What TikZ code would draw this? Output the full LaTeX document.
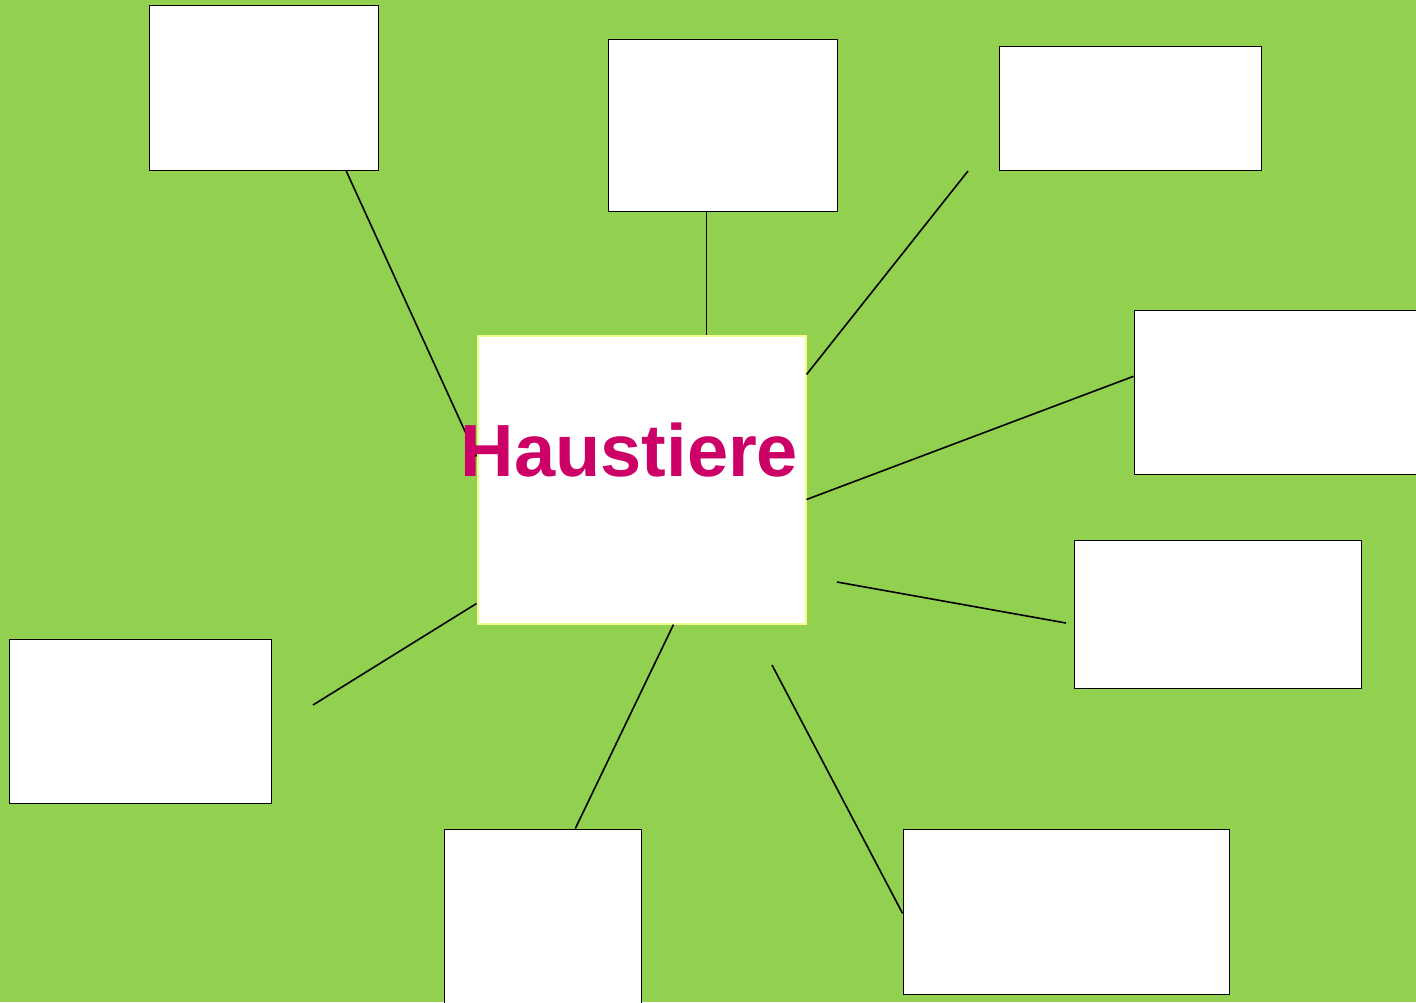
\documentclass[tikz,border=0pt]{standalone}
\usepackage{fontspec}
\usepackage{tikz}
\usetikzlibrary{
  positioning,
  backgrounds
}
\newfontfamily\mapfont{Liberation Sans}
\definecolor{leafgreen}{HTML}{92D050}
\definecolor{hubpink}{HTML}{CC0066}
\definecolor{hubrim}{HTML}{F0FF88}

\begin{document}
\begin{tikzpicture}[
      x=0.5pt, y=-0.5pt,
      leaf/.style={
         rectangle,
         anchor=north west,
         inner sep=0pt,
         line width=0.8pt,
         draw=black,
         fill=white
      },
      hub/.style={
         rectangle,
         anchor=north west,
         inner sep=0pt,
         line width=1pt,
         draw=hubrim,
         fill=white
      },
      title/.style={
         anchor=base,
         inner sep=0pt,
         text=hubpink,
         font=\mapfont\bfseries\fontsize{37}{40}\selectfont
      },
      link/.style={line width=0.8pt,draw=black},
      point/.style={coordinate}
    ]
    \useasboundingbox (0,0) rectangle (1416,1002);
    \clip (0,0) rectangle (1416,1002);
    \fill[leafgreen] (0,0) rectangle (1416,1002);

    % centre and the eight boxes
    \node (hub) [hub, minimum width=164pt, minimum height=144pt] at (476.5,334.5) {};
    \node (n1) [leaf, minimum width=114.5pt, minimum height=82.5pt] at (148.5,4.5) {};
    \node (n2) [leaf, minimum width=114.5pt, minimum height=86pt] at (607.5,38.5) {};
    \node (n3) [leaf, minimum width=131pt, minimum height=62pt] at (998.5,45.5) {};
    \node (n4) [leaf, minimum width=148pt, minimum height=82pt] at (1133.5,309.5) {};
    \node (n5) [leaf, minimum width=143.5pt, minimum height=74pt] at (1073.5,539.5) {};
    \node (n6) [leaf, minimum width=163pt, minimum height=82.5pt] at (902.5,828.5) {};
    \node (n7) [leaf, minimum width=98.5pt, minimum height=93pt] at (443.5,828.5) {};
    \node (n8) [leaf, minimum width=131pt, minimum height=82pt] at (8.5,638.5) {};

    % loose ends
    \coordinate (p2) at ([xshift=-8.25pt]n2.south);
    \coordinate (p3) at (968,171);
    \coordinate (p5a) at (837,582);
    \coordinate (p5b) at (1066,623);
    \coordinate (p6) at (772,665);
    \coordinate (p8) at (313,705);

    \draw [link] ([xshift=41.25pt]n1.south) -- ([yshift=11.5pt]hub.west);
    \draw [link] (p2) -- (p2 |- hub.north);
    \draw [link] (p3) -- ([yshift=52.5pt]hub.east);
    \draw [link] ([yshift=8pt]n4.west) -- ([yshift=-10pt]hub.east);
    \draw [link] (p5a) -- (p5b);
    \draw [link] (p6) -- ([yshift=-0.75pt]n6.west);
    \draw [link] ([xshift=16pt]hub.south) -- ([xshift=16.25pt]n7.north);
    \draw [link] (p8) -- ([yshift=-62pt]hub.west);

    \node (label) [title] at (629.5,476) {Haustiere};
\end{tikzpicture}
\end{document}
